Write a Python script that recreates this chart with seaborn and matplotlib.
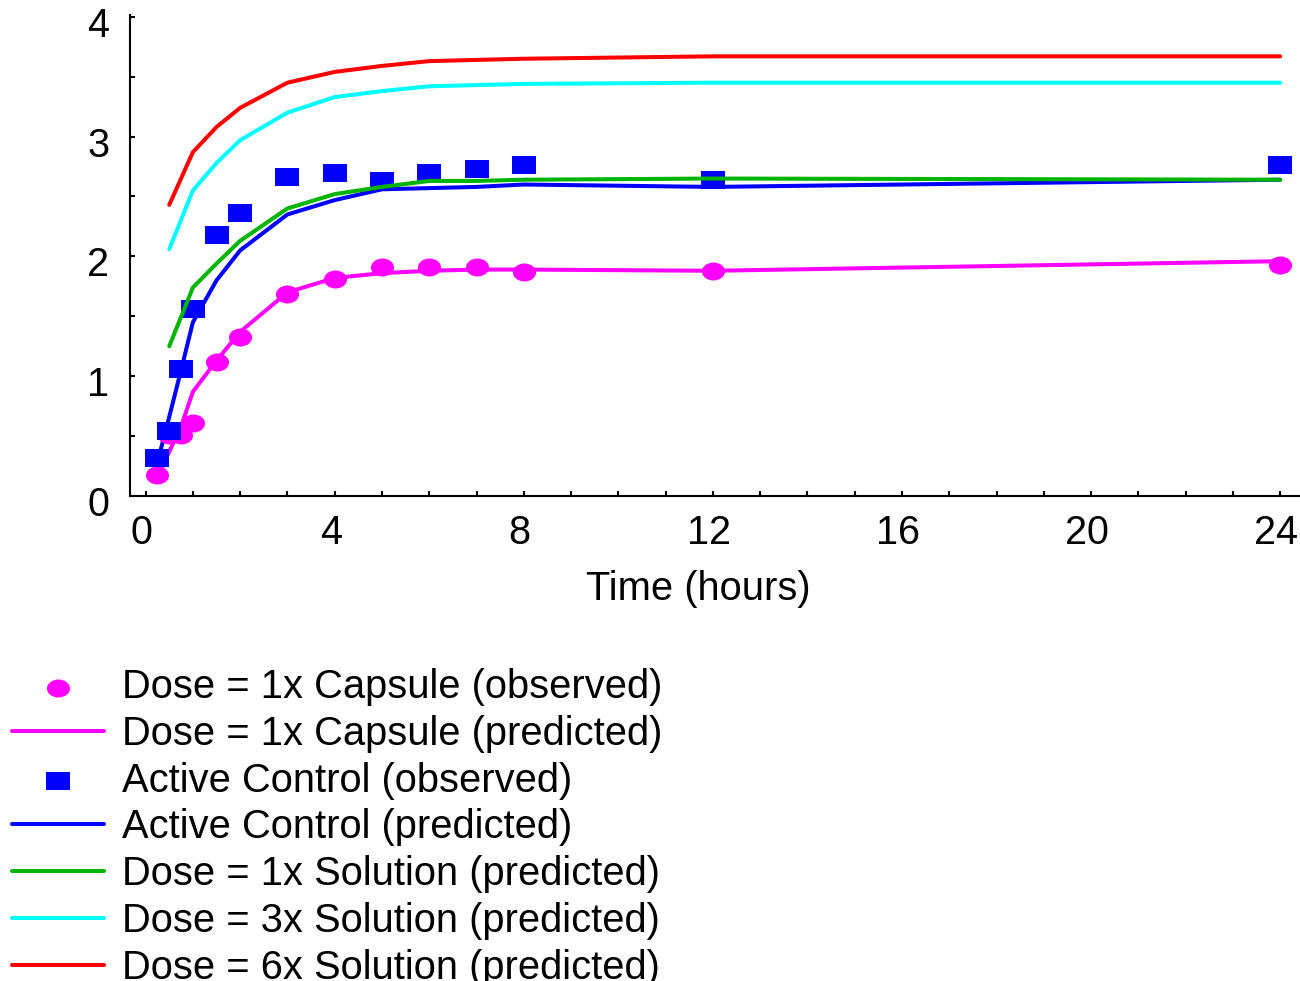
import numpy as np
import pandas as pd
import matplotlib
matplotlib.use('Agg')
import matplotlib.pyplot as plt
import matplotlib.transforms as mtransforms
from matplotlib.path import Path
from matplotlib.markers import MarkerStyle
import seaborn as sns

# observed data (hours, concentration)
t_obs = [0.25, 0.5, 0.75, 1, 1.5, 2, 3, 4, 5, 6, 7, 8, 12, 24]
capsule_obs = [0.175, 0.51, 0.51, 0.61, 1.12, 1.33, 1.69, 1.81, 1.91, 1.91, 1.91, 1.87, 1.88, 1.93]
control_obs = [0.32, 0.54, 1.06, 1.56, 2.18, 2.36, 2.66, 2.70, 2.63, 2.70, 2.73, 2.76, 2.64, 2.76]

# model predictions
t_pred_early = [0.25, 0.5, 0.75, 1, 1.5, 2, 3, 4, 5, 6, 7, 8, 12, 24]
capsule_pred = [0.15, 0.37, 0.58, 0.87, 1.13, 1.37, 1.70, 1.82, 1.86, 1.88, 1.89, 1.89, 1.88, 1.96]
control_pred = [0.28, 0.66, 1.05, 1.45, 1.80, 2.05, 2.35, 2.47, 2.56, 2.57, 2.58, 2.60, 2.58, 2.64]

t_pred_sol = [0.5, 1, 1.5, 2, 3, 4, 5, 6, 7, 8, 12, 24]
sol1x_pred = [1.25, 1.74, 1.94, 2.13, 2.40, 2.52, 2.58, 2.63, 2.63, 2.64, 2.65, 2.64]
sol3x_pred = [2.06, 2.55, 2.78, 2.97, 3.20, 3.33, 3.38, 3.42, 3.43, 3.44, 3.45, 3.45]
sol6x_pred = [2.43, 2.87, 3.08, 3.24, 3.45, 3.54, 3.59, 3.63, 3.64, 3.65, 3.67, 3.67]

x_ticks = [0, 4, 8, 12, 16, 20, 24]
y_ticks = [0, 1, 2, 3, 4]

sns.set_style('ticks')
plt.rcParams['font.family'] = ['Liberation Sans', 'DejaVu Sans']
for k in ['text.color', 'axes.labelcolor', 'xtick.color', 'ytick.color', 'axes.edgecolor']:
    plt.rcParams[k] = 'black'
FS = 28.7

fig = plt.figure(figsize=(13, 9.81), dpi=100)
ax = fig.add_axes([130 / 1300, 1 - 496 / 981, 1170 / 1300, 481 / 981])

# slightly wide markers, like the original export
ellipse = Path.unit_circle().transformed(mtransforms.Affine2D().scale(1.0, 0.78))
rect = Path([(-1, -0.8), (1, -0.8), (1, 0.8), (-1, 0.8), (-1, -0.8)],
            [Path.MOVETO, Path.LINETO, Path.LINETO, Path.LINETO, Path.CLOSEPOLY])
msize = 16.6 ** 2
lw = 2.9

sns.lineplot(x=t_pred_early, y=capsule_pred, color='#FF00FF', lw=lw, ax=ax,
             label='Dose = 1x Capsule (predicted)', zorder=3)
sns.scatterplot(x=t_obs, y=capsule_obs, color='#FF00FF', marker=MarkerStyle(ellipse),
                s=msize, linewidth=0, ax=ax, label='Dose = 1x Capsule (observed)', zorder=4)
sns.lineplot(x=t_pred_early, y=control_pred, color='#0000FF', lw=lw, ax=ax,
             label='Active Control (predicted)', zorder=3)
sns.scatterplot(x=t_obs, y=control_obs, color='#0000FF', marker=MarkerStyle(rect),
                s=msize, linewidth=0, ax=ax, label='Active Control (observed)', zorder=4)
sns.lineplot(x=t_pred_sol, y=sol1x_pred, color='#00B400', lw=lw, ax=ax,
             label='Dose = 1x Solution (predicted)', zorder=5)
sns.lineplot(x=t_pred_sol, y=sol3x_pred, color='#00FFFF', lw=lw, ax=ax,
             label='Dose = 3x Solution (predicted)', zorder=5)
sns.lineplot(x=t_pred_sol, y=sol6x_pred, color='#FF0000', lw=lw, ax=ax,
             label='Dose = 6x Solution (predicted)', zorder=5)

ax.set_xlim(-0.33, 24.42)
ax.set_ylim(0, 4.015)
ax.set_xticks(x_ticks)
ax.set_xticks(np.arange(0, 25, 1), minor=True)
ax.set_yticks(y_ticks)
ax.set_yticks(np.arange(0, 4.01, 0.5), minor=True)
ax.tick_params(which='both', direction='in', length=3.5, width=1.5, color='black')
ax.tick_params(axis='x', which='major', labelsize=28.5, pad=13)
ax.tick_params(axis='y', which='major', labelsize=28.5, pad=15)
for s in ['top', 'right']:
    ax.spines[s].set_visible(False)
for s in ['left', 'bottom']:
    ax.spines[s].set_linewidth(1.5)
    ax.spines[s].set_color('black')

# nudge tick labels like the original
for lab in ax.get_xticklabels():
    lab.set_transform(lab.get_transform() + mtransforms.ScaledTranslation(-0.04, 0, fig.dpi_scale_trans))
for lab in ax.get_yticklabels():
    lab.set_transform(lab.get_transform() + mtransforms.ScaledTranslation(0, -0.05, fig.dpi_scale_trans))

ax.set_xlabel('Time (hours)', fontsize=FS)
ax.set_ylabel('')
ax.xaxis.set_label_coords((698 - 130) / 1170, (496 - 600) / 481)
ax.xaxis.label.set_va('baseline')

handles, labels = ax.get_legend_handles_labels()
order = ['Dose = 1x Capsule (observed)', 'Dose = 1x Capsule (predicted)',
         'Active Control (observed)', 'Active Control (predicted)',
         'Dose = 1x Solution (predicted)', 'Dose = 3x Solution (predicted)',
         'Dose = 6x Solution (predicted)']
hmap = dict(zip(labels, handles))
ax.legend([hmap[k] for k in order], order, loc='upper left',
          bbox_to_anchor=(12 / 1300, 1 - 668 / 981), bbox_transform=fig.transFigure,
          frameon=False, fontsize=FS, borderpad=0, borderaxespad=0,
          handlelength=2.31, handletextpad=0.45, labelspacing=0.22)

fig.savefig('out.png', dpi=100)
